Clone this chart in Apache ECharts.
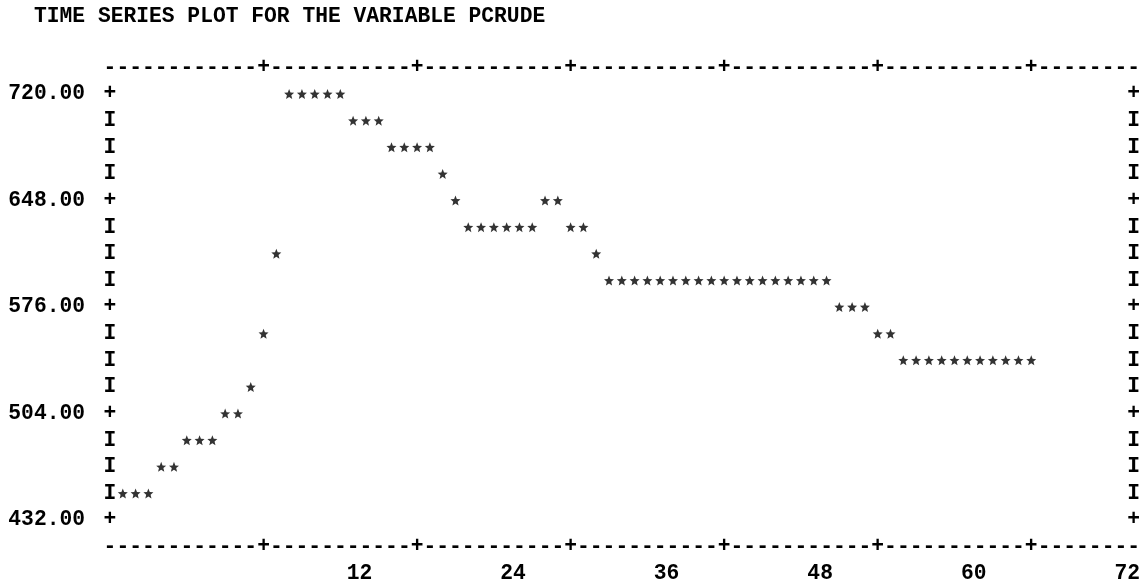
<!DOCTYPE html>
<html>
<head>
<meta charset="utf-8">
<title>PCRUDE</title>
<script src="https://cdn.jsdelivr.net/npm/echarts@6/dist/echarts.min.js"></script>
<style>
  html, body { margin: 0; padding: 0; background: #ffffff; }
  #chart { width: 1143px; height: 584px; }
</style>
</head>
<body>
<div id="chart"></div>
<script>
// PCRUDE observations, one per period (1..72), at the printer plot's row levels
const pcrude = [
  450, 450, 450, 468, 468, 486, 486, 486, 504, 504,
  522, 558, 612, 720, 720, 720, 720, 720, 702, 702,
  702, 684, 684, 684, 684, 666, 648, 630, 630, 630,
  630, 630, 630, 648, 648, 630, 630, 612, 594, 594,
  594, 594, 594, 594, 594, 594, 594, 594, 594, 594,
  594, 594, 594, 594, 594, 594, 576, 576, 576, 558,
  558, 540, 540, 540, 540, 540, 540, 540, 540, 540,
  540, 540
];
// labelled ticks
const xTicks = [12, 24, 36, 48, 60, 72];
const yTicks = [432, 504, 576, 648, 720];
const titleText = 'TIME SERIES PLOT FOR THE VARIABLE PCRUDE';

// line-printer look: every glyph sits on a fixed character cell
const FONT = 'Liberation Mono';
const FSIZE = 21.3;
const CELL = 12.8;         // width of one printed column
const ROW = 26.7;          // height of one printed line
const NUM_SHIFT = 7.5;     // period numbers are printed a few columns right of their '+'

const points = pcrude.map((v, i) => [i + 1, v]);

const STAR = 'path://M50 0 L62.93 32.2 L97.55 34.55 L70.92 56.8 L79.39 90.45 L50 72 L20.61 90.45 L29.08 56.8 L2.45 34.55 L37.07 32.2 Z';

const txt = { fontFamily: FONT, fontWeight: 'bold', fontSize: FSIZE, color: '#000' };
const hidden = { axisLine: { show: false }, axisTick: { show: false }, splitLine: { show: false } };

const dashAxis = (position) => Object.assign({
  type: 'value', position: position, min: 0, max: 80, interval: 1,
  axisLabel: Object.assign({
    formatter: v => (xTicks.includes(v) ? '+' : '-'),
    margin: ROW, align: 'center', verticalAlign: 'middle', hideOverlap: false
  }, txt)
}, hidden);

const chart = echarts.init(document.getElementById('chart'), null, { renderer: 'canvas' });
chart.setOption({
  animation: false,
  backgroundColor: '#ffffff',
  title: {
    text: titleText, left: 29, top: 1,
    textStyle: Object.assign({}, txt)
  },
  grid: { left: 110, right: 9, top: 94, bottom: 62.8, containLabel: false },
  xAxis: [
    dashAxis('top'),
    dashAxis('bottom'),
    Object.assign({
      type: 'value', position: 'bottom', min: 0, max: 80, interval: 0.5,
      axisLabel: Object.assign({
        formatter: v => (xTicks.includes(v - NUM_SHIFT) ? String(v - NUM_SHIFT) : ''),
        margin: 2 * ROW, align: 'center', verticalAlign: 'middle', hideOverlap: false
      }, txt)
    }, hidden)
  ],
  yAxis: [
    Object.assign({
      type: 'value', position: 'left', min: 432, max: 720, interval: 18,
      axisLabel: Object.assign({
        formatter: v => (yTicks.includes(v) ? '{n|' + v.toFixed(2) + '}{p|+}' : '{p|I}'),
        margin: -CELL / 2, align: 'right', verticalAlign: 'middle',
        rich: {
          n: Object.assign({ padding: [0, 18.6, 0, 0] }, txt),
          p: Object.assign({ width: CELL, align: 'center' }, txt)
        }
      }, txt)
    }, hidden),
    Object.assign({
      type: 'value', position: 'right', min: 432, max: 720, interval: 18,
      axisLabel: Object.assign({
        formatter: v => (yTicks.includes(v) ? '+' : 'I'),
        margin: 0, align: 'center', verticalAlign: 'middle'
      }, txt)
    }, hidden)
  ],
  series: [{
    name: 'PCRUDE',
    type: 'scatter',
    xAxisIndex: 0,
    yAxisIndex: 0,
    data: points,
    symbol: STAR,
    symbolSize: [10, 10],
    itemStyle: { color: '#000' },
    silent: true
  }]
});
</script>
</body>
</html>
